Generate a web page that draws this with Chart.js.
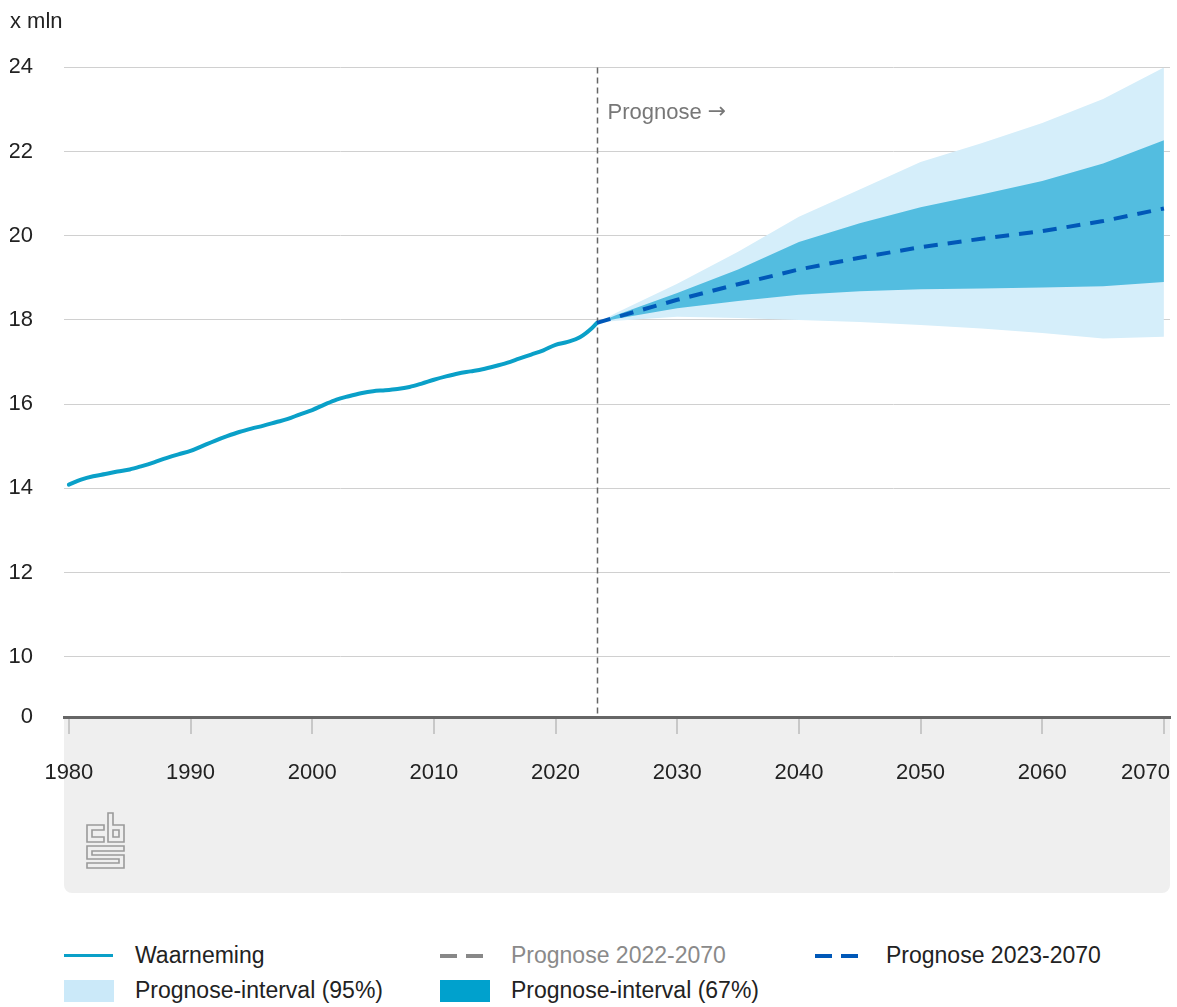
<!DOCTYPE html>
<html lang="nl">
<head>
<meta charset="UTF-8">
<title>Bevolking Nederland, waarneming en prognose</title>
<script src="https://cdn.jsdelivr.net/npm/chart.js"></script>
<style>
  body { margin: 0; background: #fff; font-family: "Liberation Sans", Arial, sans-serif; }
  #wrap { position: relative; width: 1177px; height: 1007px; }
  #legend { position: absolute; left: 64px; top: 938px; display: grid; grid-template-columns: 376px 375px auto; }
  .item { display: flex; align-items: center; height: 35px; font-size: 23px; color: #222; white-space: nowrap; }
  .item.muted { color: #8a8a8a; }
  .sym { width: 71px; flex: none; display: flex; align-items: center; }
</style>
</head>
<body>
<div id="wrap">
  <canvas id="chart" width="1177" height="900"></canvas>
  <div id="legend"></div>
</div>

<script>
  // waarneming, 1 januari (x mln); laatste punt = start prognose
  const obsYears = [1980, 1981, 1982, 1983, 1984, 1985, 1986, 1987, 1988, 1989,
    1990, 1991, 1992, 1993, 1994, 1995, 1996, 1997, 1998, 1999,
    2000, 2001, 2002, 2003, 2004, 2005, 2006, 2007, 2008, 2009,
    2010, 2011, 2012, 2013, 2014, 2015, 2016, 2017, 2018, 2019,
    2020, 2021, 2022, 2023, 2023.4];
  const obsValues = [14.09, 14.21, 14.29, 14.34, 14.40, 14.45, 14.53, 14.62, 14.72, 14.81,
    14.89, 15.01, 15.13, 15.24, 15.34, 15.42, 15.49, 15.57, 15.65, 15.76,
    15.86, 15.99, 16.11, 16.19, 16.26, 16.31, 16.33, 16.36, 16.41, 16.49,
    16.58, 16.66, 16.73, 16.78, 16.83, 16.90, 16.98, 17.08, 17.18, 17.28,
    17.41, 17.48, 17.59, 17.81, 17.93];

  // prognose 2023-2070
  const progYears  = [2023.4, 2025, 2030, 2035, 2040, 2045, 2050, 2055, 2060, 2065, 2070];
  const progMedian = [17.93, 18.07, 18.48, 18.85, 19.20, 19.48, 19.73, 19.93, 20.11, 20.35, 20.65];
  const progLow67  = [17.93, 18.03, 18.28, 18.45, 18.60, 18.68, 18.73, 18.75, 18.77, 18.80, 18.90];
  const progHigh67 = [17.93, 18.12, 18.64, 19.20, 19.85, 20.30, 20.68, 20.98, 21.30, 21.72, 22.27];
  const progLow95  = [17.93, 17.98, 18.08, 18.05, 18.00, 17.95, 17.88, 17.80, 17.69, 17.56, 17.60];
  const progHigh95 = [17.93, 18.17, 18.86, 19.62, 20.45, 21.10, 21.75, 22.20, 22.68, 23.25, 24.00];

  const xTicks = [1980, 1990, 2000, 2010, 2020, 2030, 2040, 2050, 2060, 2070];
  const yTicks = [0, 10, 12, 14, 16, 18, 20, 22, 24];
  const axisBreak = 8.57;   // waarde waarop "0" staat (onderbroken as)
  const prognoseStart = progYears[0];

  const obsColor = '#0aa0c8';
  const medianColor = '#0058b8';
  const band95 = '#d5eefa';
  const band67 = '#53bde0';

  const pts = (xs, ys) => xs.map((x, i) => ({ x: x, y: ys[i] }));
  const font = '"Liberation Sans", Arial, sans-serif';

  const backdrop = {
    id: 'backdrop',
    beforeDraw(chart) {
      const ctx = chart.ctx, x = chart.scales.x, a = chart.chartArea;
      ctx.save();
      ctx.fillStyle = '#efefef';
      ctx.beginPath();
      ctx.roundRect(a.left, x.top, a.right - a.left, x.bottom - x.top, [0, 0, 8, 8]);
      ctx.fill();
      ctx.restore();
    },
    beforeDatasetsDraw(chart) {
      const ctx = chart.ctx, a = chart.chartArea;
      const px = Math.round(chart.scales.x.getPixelForValue(prognoseStart)) + 0.5;
      ctx.save();
      ctx.strokeStyle = '#666';
      ctx.lineWidth = 1.5;
      ctx.setLineDash([6, 4]);
      ctx.beginPath();
      ctx.moveTo(px, a.top);
      ctx.lineTo(px, a.bottom);
      ctx.stroke();
      ctx.setLineDash([]);
      ctx.fillStyle = '#777';
      ctx.font = '22px ' + font;
      ctx.textBaseline = 'middle';
      const label = 'Prognose ';
      ctx.fillText(label, px + 10, a.top + 46);
      const w = ctx.measureText(label).width;
      ctx.font = '22px "DejaVu Sans", sans-serif';
      ctx.fillText('\u2192', px + 10 + w, a.top + 45);
      ctx.restore();
    },
    afterDraw(chart) {
      const ctx = chart.ctx, xs = chart.scales.x, a = chart.chartArea;
      ctx.save();
      ctx.fillStyle = '#222';
      ctx.font = '22px ' + font;
      ctx.textBaseline = 'middle';
      xTicks.forEach(v => {
        const t = String(v), w = ctx.measureText(t).width;
        let px = xs.getPixelForValue(v);
        if (px + w / 2 > a.right) px = a.right - w / 2;
        ctx.textAlign = 'center';
        ctx.fillText(t, px, xs.top + 56);
      });
      // cbs-logo
      const lx = a.left + 23, ly = xs.top + 96;
      ctx.strokeStyle = '#9a9a9a';
      ctx.lineWidth = 1.6;
      ctx.beginPath();
      ctx.moveTo(lx + 17, ly + 12); ctx.lineTo(lx, ly + 12); ctx.lineTo(lx, ly + 29); ctx.lineTo(lx + 17, ly + 29);
      ctx.lineTo(lx + 17, ly + 24); ctx.lineTo(lx + 5, ly + 24); ctx.lineTo(lx + 5, ly + 17); ctx.lineTo(lx + 17, ly + 17); ctx.closePath();
      ctx.moveTo(lx + 21, ly); ctx.lineTo(lx + 26, ly); ctx.lineTo(lx + 26, ly + 12); ctx.lineTo(lx + 37, ly + 12);
      ctx.lineTo(lx + 37, ly + 29); ctx.lineTo(lx + 21, ly + 29); ctx.closePath();
      ctx.rect(lx + 26, ly + 17, 6, 7);
      ctx.moveTo(lx, ly + 33); ctx.lineTo(lx + 37, ly + 33); ctx.lineTo(lx + 37, ly + 38); ctx.lineTo(lx + 5, ly + 38);
      ctx.lineTo(lx + 5, ly + 42); ctx.lineTo(lx + 37, ly + 42); ctx.lineTo(lx + 37, ly + 55); ctx.lineTo(lx, ly + 55);
      ctx.lineTo(lx, ly + 50); ctx.lineTo(lx + 32, ly + 50); ctx.lineTo(lx + 32, ly + 46); ctx.lineTo(lx, ly + 46); ctx.closePath();
      ctx.stroke();
      ctx.restore();
    }
  };

  new Chart(document.getElementById('chart'), {
    type: 'line',
    data: {
      datasets: [
        { label: 'low95', data: pts(progYears, progLow95), borderWidth: 0, pointRadius: 0, fill: false, order: 6 },
        { label: 'Prognose-interval (95%)', data: pts(progYears, progHigh95), borderWidth: 0, pointRadius: 0,
          fill: '-1', backgroundColor: band95, order: 5 },
        { label: 'low67', data: pts(progYears, progLow67), borderWidth: 0, pointRadius: 0, fill: false, order: 4 },
        { label: 'Prognose-interval (67%)', data: pts(progYears, progHigh67), borderWidth: 0, pointRadius: 0,
          fill: '-1', backgroundColor: band67, order: 3 },
        { label: 'Prognose 2023-2070', data: pts(progYears, progMedian), borderColor: medianColor, borderWidth: 4,
          borderDash: [14, 10], pointRadius: 0, fill: false, order: 1 },
        { label: 'Waarneming', data: pts(obsYears, obsValues), borderColor: obsColor, borderWidth: 4,
          cubicInterpolationMode: 'monotone', pointRadius: 0, fill: false, order: 2, borderCapStyle: 'round' }
      ]
    },
    options: {
      responsive: false,
      animation: false,
      events: [],
      layout: { padding: { left: 10, right: 7, top: 0, bottom: 7 } },
      plugins: {
        legend: { display: false },
        tooltip: { enabled: false },
        title: {
          display: true, text: 'x mln', align: 'start', color: '#222',
          font: { family: font, size: 22, weight: 'normal' },
          padding: { top: 9, bottom: 32 }
        }
      },
      scales: {
        x: {
          type: 'linear', min: 1979.6, max: 2070.5,
          afterBuildTicks: s => { s.ticks = xTicks.map(v => ({ value: v })); },
          afterFit: s => { s.height = 176; },
          ticks: { display: false },
          grid: { drawOnChartArea: false, drawTicks: true, tickLength: 17, color: '#c8c8c8', lineWidth: 2 },
          border: { color: '#666', width: 3 }
        },
        y: {
          min: axisBreak, max: 24,
          afterBuildTicks: s => { s.ticks = yTicks.map(v => ({ value: v === 0 ? axisBreak : v })); },
          afterFit: s => { s.width = 54; },
          ticks: {
            padding: 31, color: '#222', font: { family: font, size: 22 },
            callback: v => Math.abs(v - axisBreak) < 1e-6 ? '0' : v
          },
          grid: {
            drawTicks: false,
            color: c => (c.tick && Math.abs(c.tick.value - axisBreak) < 1e-6) ? 'rgba(0,0,0,0)' : '#d0d0d0'
          },
          border: { display: false }
        }
      }
    },
    plugins: [backdrop]
  });

  // legenda
  const legendItems = [
    { label: 'Waarneming', kind: 'line', color: obsColor },
    { label: 'Prognose 2022-2070', kind: 'dash', color: '#888', muted: true },
    { label: 'Prognose 2023-2070', kind: 'dash', color: medianColor },
    { label: 'Prognose-interval (95%)', kind: 'box', color: '#cbe9f9' },
    { label: 'Prognose-interval (67%)', kind: 'box', color: '#00a1cd' }
  ];
  const legend = document.getElementById('legend');
  legendItems.forEach(it => {
    const el = document.createElement('div');
    el.className = 'item' + (it.muted ? ' muted' : '');
    let sym;
    if (it.kind === 'line') {
      sym = '<span style="display:block;width:49px;height:3px;background:' + it.color + '"></span>';
    } else if (it.kind === 'dash') {
      sym = '<span style="display:block;width:17px;height:4px;background:' + it.color + ';margin-right:9px"></span>' +
            '<span style="display:block;width:17px;height:4px;background:' + it.color + '"></span>';
    } else {
      sym = '<span style="display:block;width:50px;height:22px;background:' + it.color + '"></span>';
    }
    el.innerHTML = '<span class="sym">' + sym + '</span><span>' + it.label + '</span>';
    legend.appendChild(el);
  });
</script>
</body>
</html>
